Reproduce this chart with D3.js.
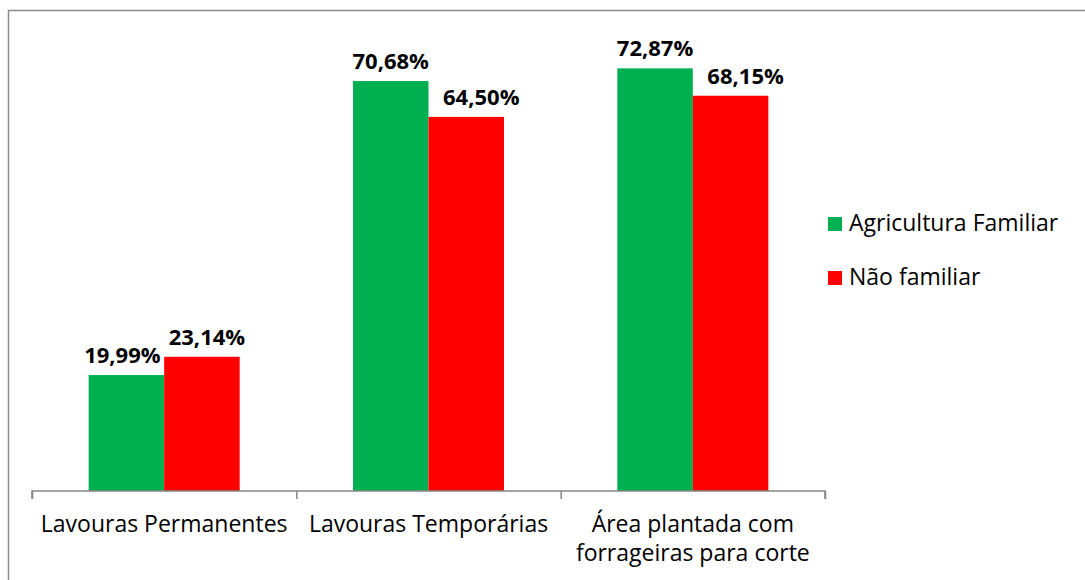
<!DOCTYPE html>
<html>
<head>
<meta charset="utf-8">
<script src="https://cdn.jsdelivr.net/npm/d3@7"></script>
<style>
  html, body { margin: 0; padding: 0; background: #fff; }
  svg { display: block; }
</style>
</head>
<body>
<svg id="chart" width="1085" height="580"></svg>
<script>
// Share of area by crop type, family vs non-family farming
const categories = [
  ["Lavouras Permanentes"],
  ["Lavouras Temporárias"],
  ["Área plantada com", "forrageiras para corte"]
];
const seriesNames = ["Agricultura Familiar", "Não familiar"];
const familiar = [19.99, 70.68, 72.87];
const naoFamiliar = [23.14, 64.50, 68.15];
const seriesColors = ["#00B050", "#FF0000"];

const svg = d3.select("#chart");
const font = "'Open Sans', 'Noto Sans', sans-serif";

// outer frame
svg.append("rect")
  .attr("x", 8.5).attr("y", 10.5)
  .attr("width", 1100).attr("height", 600)
  .attr("fill", "none").attr("stroke", "#8a8a8a").attr("stroke-width", 1.5);

const plot = { left: 32, right: 825, top: 27, bottom: 491 };

const x0 = d3.scaleBand()
  .domain(d3.range(categories.length))
  .range([plot.left, plot.right])
  .paddingInner(0)
  .paddingOuter(0);

const x1 = d3.scaleBand()
  .domain(d3.range(seriesNames.length))
  .range([0, x0.bandwidth()])
  .paddingInner(0)
  .paddingOuter(0.75);

const y = d3.scaleLinear().domain([0, 80]).range([plot.bottom, plot.top]);

const rows = categories.map((c, i) => ({ i, values: [familiar[i], naoFamiliar[i]] }));

const groups = svg.append("g").selectAll("g")
  .data(rows).join("g")
  .attr("transform", d => `translate(${x0(d.i)},0)`);

groups.selectAll("rect")
  .data(d => d.values.map((v, s) => ({ v, s })))
  .join("rect")
  .attr("x", d => x1(d.s))
  .attr("y", d => y(d.v))
  .attr("width", x1.bandwidth())
  .attr("height", d => y(0) - y(d.v))
  .attr("fill", d => seriesColors[d.s]);

// value labels; second-series labels sit a little to the right,
// and close pairs are spread apart so they don't collide
const fmt = v => d3.format(".2f")(v).replace(".", ",") + "%";
groups.each(function (row) {
  const g = d3.select(this);
  const close = Math.abs(y(row.values[0]) - y(row.values[1])) < 25;
  row.values.forEach((v, s) => {
    let dx = s === 1 ? 15 : 0;
    if (close) dx = s === 0 ? -4 : 5;
    g.append("text")
      .attr("x", x1(s) + x1.bandwidth() / 2 + dx)
      .attr("y", y(v) - 12)
      .attr("text-anchor", "middle")
      .attr("font-family", font)
      .attr("font-weight", "bold")
      .attr("font-size", 22)
      .attr("fill", "#000")
      .text(fmt(v));
  });
});

// category axis with tick marks at the group boundaries
const axisScale = d3.scaleLinear()
  .domain([0, categories.length])
  .range([plot.left, plot.right]);
const axisG = svg.append("g")
  .attr("transform", `translate(0,${plot.bottom})`)
  .call(d3.axisBottom(axisScale).ticks(categories.length).tickSize(8).tickFormat(""));
axisG.select(".domain")
  .attr("d", `M${plot.left},8V0H${plot.right}V8`)
  .attr("stroke", "#868686").attr("stroke-width", 1.5);
axisG.selectAll(".tick line").attr("stroke", "#868686").attr("stroke-width", 1.5);

// category labels
categories.forEach((lines, i) => {
  const cx = x0(i) + x0.bandwidth() / 2;
  const t = svg.append("text")
    .attr("x", cx)
    .attr("y", 532)
    .attr("text-anchor", "middle")
    .attr("font-family", font)
    .attr("font-size", 23)
    .attr("fill", "#000");
  lines.forEach((ln, k) => {
    t.append("tspan")
      .attr("x", cx)
      .attr("dy", k === 0 ? 0 : 29)
      .text(ln);
  });
});

// legend
const legend = svg.append("g").attr("transform", "translate(828,217)");
seriesNames.forEach((name, s) => {
  const g = legend.append("g").attr("transform", `translate(0,${s * 54})`);
  g.append("rect").attr("width", 14).attr("height", 14).attr("fill", seriesColors[s]);
  g.append("text")
    .attr("x", 21).attr("y", 14)
    .attr("font-family", font)
    .attr("font-size", 23)
    .attr("fill", "#000")
    .text(name);
});
</script>
</body>
</html>
